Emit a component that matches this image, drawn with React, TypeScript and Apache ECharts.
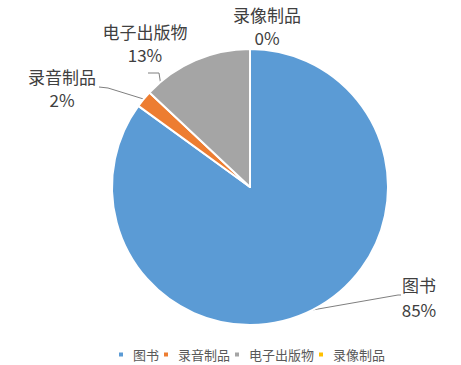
import React, { useEffect, useRef } from "react";
import * as echarts from "echarts";

const categories = ["图书", "录音制品", "电子出版物", "录像制品"];
const values = [85, 2, 13, 0];
const colors = ["#5B9BD5", "#ED7D31", "#A5A5A5", "#FFC000"];

// label anchor positions (text block centres) and leader-line bends
const labelPos: [number, number][] = [
  [419, 297],
  [62, 88],
  [145, 43],
  [267, 26],
];
const linePts: ([number, number][] | null)[] = [
  [[398, 295], [401, 295]],
  [[108, 88], [99, 87]],
  [[159, 73], [148, 73]],
  null,
];
const gray165: [number, number] = [165, 112];

export default function App() {
  const ref = useRef<HTMLDivElement>(null);
  useEffect(() => {
    const chart = echarts.init(ref.current!, null, { renderer: "svg" });
    const font = '"Noto Sans CJK SC", "Noto Sans", sans-serif';
    chart.setOption({
      animation: false,
      color: colors,
      textStyle: { fontFamily: font },
      legend: {
        data: categories,
        top: 343,
        left: 112,
        icon: "rect",
        itemWidth: 6,
        itemHeight: 6,
        itemGap: 3,
        textStyle: { fontSize: 13, color: "#595959", fontFamily: font, padding: [0, 0, 0, 4] },
      },
      series: [
        {
          type: "pie",
          center: [250, 187],
          radius: 138,
          startAngle: 90,
          clockwise: true,
          avoidLabelOverlap: false,
          itemStyle: { borderColor: "#fff", borderWidth: 2 },
          label: {
            show: true,
            position: "outside",
            fontSize: 17,
            color: "#404040",
            lineHeight: 23,
            align: "center",
            fontFamily: font,
            formatter: (p: any) => `${p.name}\n${Math.round(p.percent)}%`,
          },
          labelLine: {
            show: true,
            lineStyle: { color: "#7F7F7F", width: 1 },
          },
          labelLayout: (params: any) => {
            const i = params.dataIndex;
            const [x, y] = labelPos[i];
            const res: any = { x, y, align: "center", verticalAlign: "middle" };
            const lp = linePts[i];
            if (lp && params.labelLinePoints) {
              const start = i === 2 ? gray165 : params.labelLinePoints[0];
              res.labelLinePoints = [start, lp[0], lp[1]];
            }
            return res;
          },
          data: categories.map((name, i) => ({
            name,
            value: values[i],
            label: i === 0 ? { lineHeight: 25 } : undefined,
            labelLine: i === 3 ? { show: false } : undefined,
          })),
        },
      ],
    });
    return () => chart.dispose();
  }, []);
  return (
    <div
      ref={ref}
      style={{ position: "fixed", left: 0, top: 0, width: 461, height: 365, background: "#fff" }}
    />
  );
}
